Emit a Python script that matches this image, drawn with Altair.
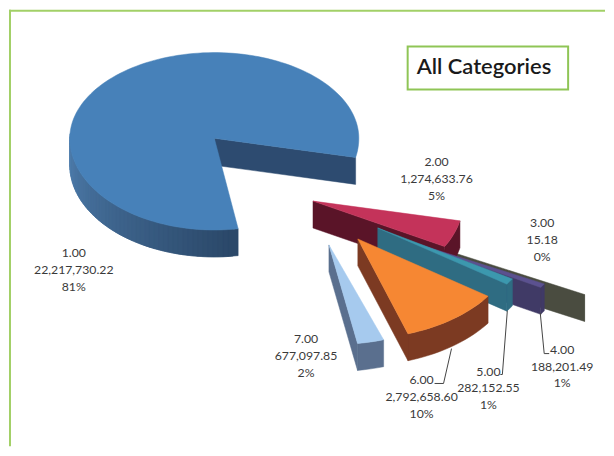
import math
import altair as alt
import pandas as pd

# --- chart values -----------------------------------------------------
categories = ["1.00", "2.00", "3.00", "4.00", "5.00", "6.00", "7.00"]
value_text = ["22,217,730.22", "1,274,633.76", "15.18", "188,201.49",
              "282,152.55", "2,792,658.60", "677,097.85"]
values = [22217730.22, 1274633.76, 15.18, 188201.49, 282152.55, 2792658.60, 677097.85]
percent_text = ["81%", "5%", "0%", "1%", "1%", "10%", "2%"]

top_colors = ["#4781b9", "#c4335a", "#4c4e42", "#5b5190", "#3c98ae", "#f68733", "#a6caee"]
side_colors = ["#2d4b70", "#5a1428", "#4a4c40", "#403a66", "#2f6c82", "#7c3a22", "#5a6f8e"]

# exploded-slice layout, in pixels of the reference picture
apex_x = [214, 313, 433, 399, 378, 358, 329]
apex_y = [137, 200, 245, 237, 227, 238, 244]
scale_x = [1.0, 1.04, 1.20, 1.15, 1.09, 1.10, 1.20]
scale_y = [1.0, 1.03, 1.10, 1.04, 1.07, 1.09, 1.09]
draw_order = [2, 1, 3, 4, 5, 6, 0]
start_angle = 170.5
RX, RY_BACK, RY_FRONT, DEPTH = 145, 86, 92, 27

label_x = [73, 437, 543, 563, 489, 422, 306]
label_y = [252, 161, 222, 349, 371, 380, 338]
LINE_STEP = 17

leader_x = [[541, 545, 550], [508, 503, 501], [452, 444, 435]]
leader_y = [[312, 353, 353], [310, 374, 374], [348, 383, 383]]

title_text = "All Categories"
W, H = 598, 438


def project(i, t):
    r = math.radians(t)
    c = math.cos(r)
    ry = RY_FRONT if c < 0 else RY_BACK
    return (apex_x[i] + RX * scale_x[i] * math.sin(r),
            apex_y[i] - ry * scale_y[i] * c)


total = sum(values)
spans = []
t = start_angle
for v in values:
    sweep = 360 * v / total
    spans.append((t, t + sweep))
    t += sweep

rows = []
pid = [0]


def poly(points, color):
    pid[0] += 1
    for k, (x, y) in enumerate(points):
        rows.append({"poly": f"p{pid[0]:04d}", "k": k, "x": x, "y": y, "color": color})


def mix(a, b, f):
    ca = [int(a[j:j + 2], 16) for j in (1, 3, 5)]
    cb = [int(b[j:j + 2], 16) for j in (1, 3, 5)]
    return "#" + "".join(f"{round(p + (q - p) * f):02x}" for p, q in zip(ca, cb))


for i in draw_order:
    t0, t1 = spans[i]
    n = max(2, int((t1 - t0) / 2))
    ts = [t0 + (t1 - t0) * k / n for k in range(n + 1)]
    outer = [project(i, a) for a in ts]
    ax, ay = apex_x[i], apex_y[i]
    # outer rim
    if i == 0:
        for k in range(n - 1, -1, -1):
            if 90 < ts[k] < 270:
                f = min(1, (ts[k] - 170) / 100)
                col = mix("#2b4869", "#5080b0", f)
                seg = [outer[k], outer[k + 1], outer[min(k + 2, n)]]
                poly(seg + [(x, y + DEPTH) for x, y in reversed(seg)], col)
    else:
        poly(outer + [(x, y + DEPTH) for x, y in reversed(outer)], side_colors[i])
    # visible cut face
    ex, ey = outer[-1]
    poly([(ax, ay), (ex, ey), (ex, ey + DEPTH), (ax, ay + DEPTH)], side_colors[i])
    # top face
    if i != 2:
        poly([(ax, ay)] + outer, top_colors[i])

df = pd.DataFrame(rows)

xs = alt.Scale(domain=[8, 8 + W], nice=False, zero=False)
ys = alt.Scale(domain=[8 + H, 8], nice=False, zero=False)
X = alt.X("x:Q", scale=xs, axis=None)
Y = alt.Y("y:Q", scale=ys, axis=None)

polys = alt.Chart(df).mark_line(strokeWidth=0.5, clip=False, interpolate="linear-closed").encode(
    x=X, y=Y, order="k:Q", detail="poly:N",
    fill=alt.Fill("color:N", scale=None),
    stroke=alt.Stroke("color:N", scale=None),
)

edges = alt.Chart(pd.DataFrame([
    {"x": 9, "x2": 9, "y": 8, "y2": 8 + H},
    {"x": 8, "x2": 8 + W, "y": 9, "y2": 9},
])).mark_rule(stroke="#a2d067", strokeWidth=2).encode(x=X, x2="x2:Q", y=Y, y2="y2:Q")

box = alt.Chart(pd.DataFrame([{"x": 408, "x2": 569, "y": 45, "y2": 88}])).mark_rect(
    fill="#ffffff", stroke="#8fc556", strokeWidth=2
).encode(x=X, x2="x2:Q", y=Y, y2="y2:Q")

title = alt.Chart(pd.DataFrame([{"x": 417, "y": 65, "t": title_text}])).mark_text(
    font="Lato", fontSize=22, fontWeight=600, align="left", baseline="middle", color="#1a1a1a"
).encode(x=X, y=Y, text="t:N")

text_rows = []
for i in range(len(categories)):
    for j, s in enumerate([categories[i], value_text[i], percent_text[i]]):
        text_rows.append({"x": label_x[i], "y": label_y[i] + j * LINE_STEP, "t": s})
labels = alt.Chart(pd.DataFrame(text_rows)).mark_text(
    font="Lato", fontSize=12.3, align="center", baseline="middle", color="#3a3a3a"
).encode(x=X, y=Y, text="t:N")

lead_rows = []
for i, (lx, ly) in enumerate(zip(leader_x, leader_y)):
    for k, (a, b) in enumerate(zip(lx, ly)):
        lead_rows.append({"id": i, "k": k, "x": a, "y": b})
leaders = alt.Chart(pd.DataFrame(lead_rows)).mark_line(stroke="#444444", strokeWidth=1).encode(
    x=X, y=Y, order="k:Q", detail="id:N"
)

chart = alt.layer(edges, polys, leaders, labels, box, title).properties(
    width=W, height=H, padding=0, background="#ffffff"
).configure_view(stroke=None)

chart.save("out.html", embed_options={"renderer": "svg", "actions": False})
